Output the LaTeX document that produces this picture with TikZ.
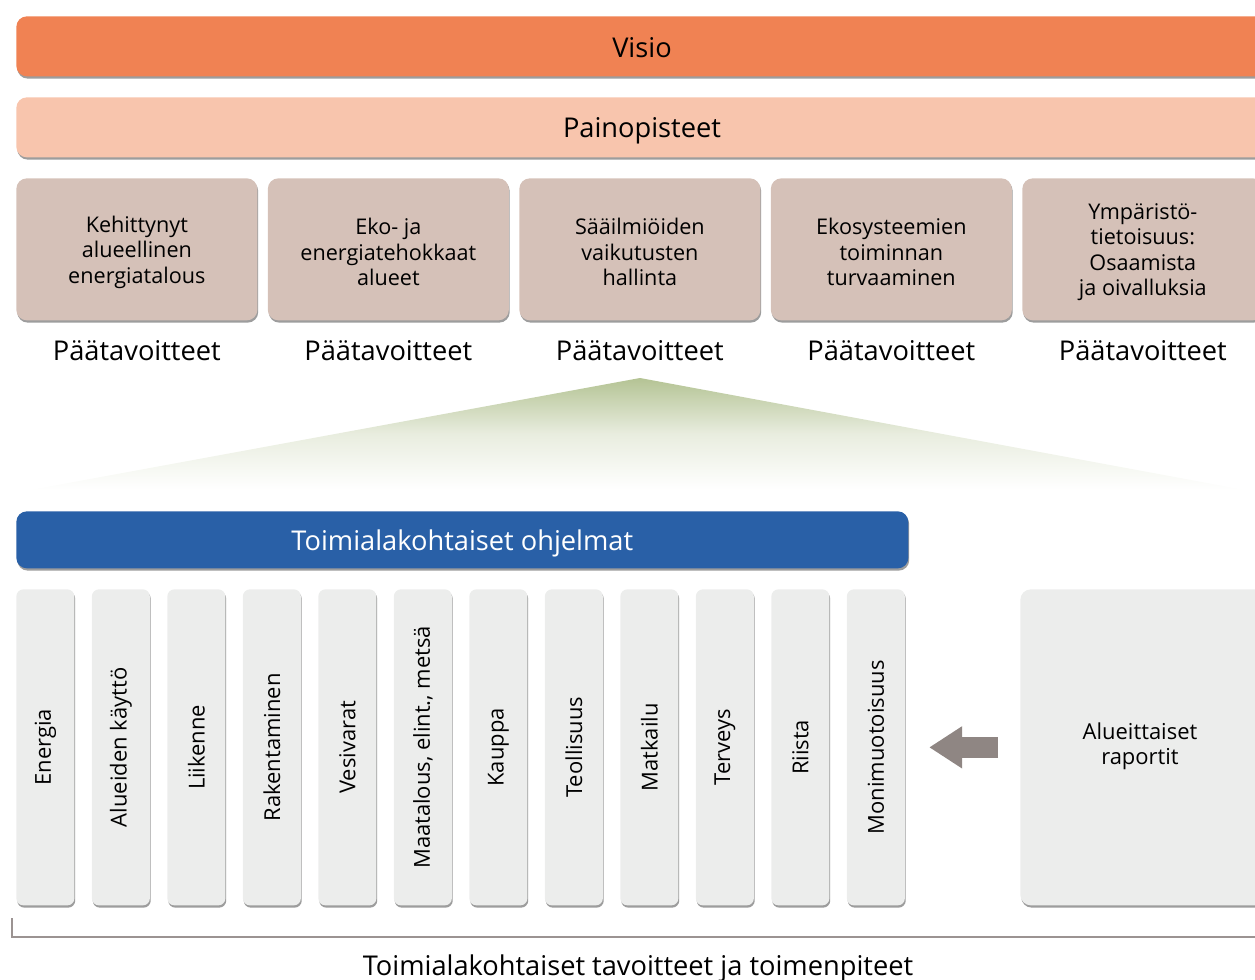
\documentclass[tikz,border=0pt]{standalone}
\usepackage{fontspec}
\setmainfont{Open Sans}
\usetikzlibrary{positioning, shadows, arrows.meta}

\definecolor{visioorange}{RGB}{240,130,83}
\definecolor{painopeach}{RGB}{248,197,173}
\definecolor{goalrose}{RGB}{213,193,184}
\definecolor{progblue}{RGB}{41,96,167}
\definecolor{sectorgray}{RGB}{236,237,236}
\definecolor{arrowgray}{RGB}{143,134,131}
\definecolor{bracketgray}{RGB}{155,147,146}
\definecolor{pyramidgreen}{RGB}{180,195,148}

\tikzset{
  boxshadow/.style={drop shadow={shadow xshift=0.5pt, shadow yshift=-1.3pt, opacity=0.55, fill=black!70}},
  bigfont/.style={font=\fontsize{15.5}{18}\selectfont},
  bar/.style={rounded corners=6pt, minimum height=1.2cm, anchor=north west, boxshadow, inner sep=0pt},
  goalbox/.style={rounded corners=6pt, fill=goalrose, minimum width=4.82cm, minimum height=2.84cm,
                  anchor=north west, boxshadow},
  goaltext/.style={align=center, font=\fontsize{12.3}{14.5}\selectfont},
  sectorbox/.style={rounded corners=4pt, fill=sectorgray, minimum width=1.16cm, minimum height=6.32cm,
                    anchor=north west, boxshadow, inner sep=0pt, font=\fontsize{12.5}{14.5}\selectfont},
}

\begin{document}
\begin{tikzpicture}
  \useasboundingbox (0,0) rectangle (25.1,-19.6);
  \clip (0,0) rectangle (25.1,-19.6);

  % vision and focus areas
  \node[bar, fill=visioorange, minimum width=25.4cm] (visio) at (0.32,-0.32) {};
  \node[bigfont] at (12.84,-0.95) (visiotext) {Visio};
  \node[bar, fill=painopeach, minimum width=25.4cm] (paino) at (0.32,-1.94) {};
  \node[bigfont] at (12.84,-2.62) (painotext) {Painopisteet};

  \foreach \i/\txt in {0/{Kehittynyt\\alueellinen\\energiatalous},
                       1/{Eko- ja\\energiatehokkaat\\alueet},
                       2/{Sääilmiöiden\\vaikutusten\\hallinta},
                       3/{Ekosysteemien\\toiminnan\\turvaaminen},
                       4/{Ympäristö-\\tietoisuus:\\Osaamista\\ja oivalluksia}} {
    \node[goalbox] (goal\i) at (0.32+\i*5.03,-3.56) {};
    \node[goaltext] at ([yshift=-0.06cm]goal\i.center) (goaltext\i) {\txt};
    \node[bigfont, below=0.28cm of goal\i] (paa\i) {Päätavoitteet};
  }

  % spreading down to the sector programmes
  \coordinate (apex) at (12.8,-7.56);
  \shade[top color=pyramidgreen, bottom color=white, middle color=pyramidgreen!30]
    (apex) -- (24.9,-9.8) -- (0.6,-9.8) -- cycle;

  \node[bar, fill=progblue, minimum width=17.84cm, minimum height=1.14cm] (ohjelmat) at (0.32,-10.22) {};
  \node[bigfont, text=white] at ([yshift=-0.07cm]ohjelmat.center) (ohjelmattext) {Toimialakohtaiset ohjelmat};

  \foreach \i/\txt in {0/Energia, 1/Alueiden käyttö, 2/Liikenne, 3/Rakentaminen, 4/Vesivarat,
                       5/{Maatalous, elint., metsä}, 6/Kauppa, 7/Teollisuus, 8/Matkailu,
                       9/Terveys, 10/Riista, 11/Monimuotoisuus} {
    \node[sectorbox] (sect\i) at (0.32+\i*1.51,-11.78) {\rotatebox{90}{\txt}};
  }

  \node[sectorbox, minimum width=5.4cm, rounded corners=6pt] (raportit) at (20.4,-11.78) {};
  \node[align=center, font=\fontsize{12.5}{14.5}\selectfont] at ([xshift=2.4cm, yshift=0.02cm]raportit.west) (raportittext)
    {Alueittaiset\\raportit};

  \draw[arrowgray, line width=0.42cm, -{Triangle[length=0.66cm, width=0.8cm]},
        shorten <=0.44cm, shorten >=0.48cm] (raportit.west) -- (sect11.east |- raportit.west);

  % bracket under the sector columns
  \coordinate (brtop) at (0.24,-18.36);
  \coordinate (brend) at (25.3,-18.74);
  \draw[bracketgray, line width=1.1pt] (brtop) |- (brend);
  \node[bigfont] at (12.76,-19.36) (tavoitteet) {Toimialakohtaiset tavoitteet ja toimenpiteet};
\end{tikzpicture}
\end{document}
